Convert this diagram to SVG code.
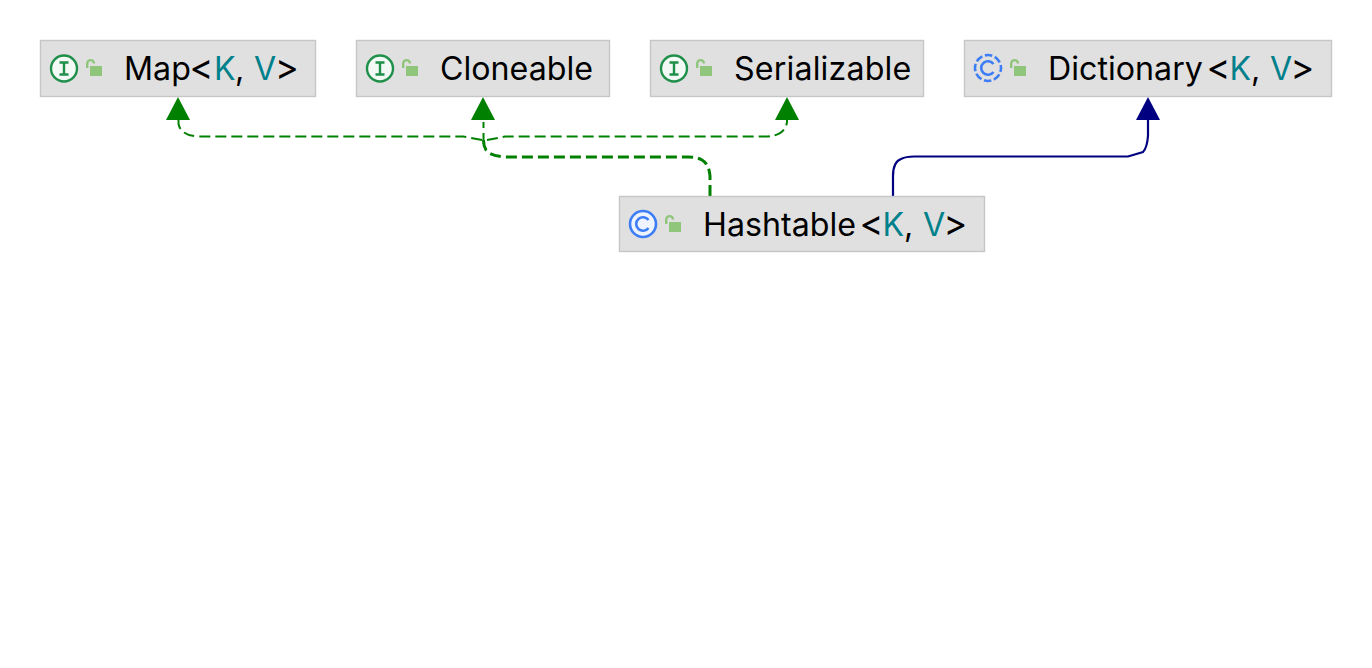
<svg xmlns="http://www.w3.org/2000/svg" width="1372" height="668" viewBox="0 0 1372 668">
<style>
.box{fill:#e0e0e0;stroke:#c6c6c6;stroke-width:1.400}
text{font-family:Inter,"Noto Sans",sans-serif;font-size:32.200px;fill:#000}
.tp{fill:#00808b}
.br{font-size:36px;font-weight:400}
.ic{fill:#f3faf5;stroke:#1f8f4a;stroke-width:2.400}
.ii{fill:none;stroke:#1f8f4a;stroke-width:2.400}
.cc{fill:#eef4ff;stroke:#3d7df5;stroke-width:2.600}
.ci{fill:none;stroke:#3d7df5;stroke-width:2.600}
.lock{fill:#8fc67b}
.shackle{fill:none;stroke:#8fc67b;stroke-width:2.400}
.impl{fill:none;stroke:#008000;stroke-width:2;stroke-dasharray:11 5}
.ext{fill:none;stroke:#000080;stroke-width:2.200}
</style>
<defs>
<g id="lk"><path class="shackle" d="M1.200 8V3.500a3.400 3.400 0 0 1 6.800 0"/><rect class="lock" x="4" y="6" width="12" height="10"/></g>
<g id="ifc"><circle class="ic" cx="0" cy="0" r="13"/><path class="ii" d="M-4.500 -6H4.500M-4.500 6H4.500M0 -6V6"/></g>
<g id="cls"><path class="ci" d="M5.500 -4A6.800 6.800 0 1 0 5.500 4"/></g>
</defs>
<rect width="1372" height="668" fill="#fff"/>
<g id="connectors">
<path class="impl" style="stroke-width:3" d="M710 196V176Q709 164 702 160Q697 157 688 157H506Q490 156 486 150Q483.500 146 483.500 140"/>
<path class="impl" d="M483.500 144V122"/>
<path class="impl" d="M482 140L463 136.500H199Q181 136 178.500 124V118"/>
<path class="impl" d="M487 140L505 136.500H766Q785 136 787 122V118"/>
<path class="ext" d="M893 196V176Q893 162 901 159Q906 156.500 914 156.500H1128L1143 152Q1147 148 1148 136V118"/>
<polygon fill="#008000" points="178,97 190,120 166,120"/>
<polygon fill="#008000" points="483,97 495,120 471,120"/>
<polygon fill="#008000" points="787,97 799,120 775,120"/>
<polygon fill="#000080" points="1148,97 1160,120 1136,120"/>
</g>
<g id="map">
<rect class="box" x="40.500" y="40.500" width="275" height="56"/>
<use href="#ifc" x="64" y="68.500"/><use href="#lk" x="86" y="60"/>
<text x="124" y="80">Map<tspan class="br" x="189.500">&lt;</tspan><tspan class="tp" x="214">K</tspan><tspan x="235">,</tspan><tspan class="tp" x="254">V</tspan><tspan class="br" x="275">&gt;</tspan></text>
</g>
<g id="cloneable">
<rect class="box" x="356.500" y="40.500" width="253" height="56"/>
<use href="#ifc" x="380" y="68.500"/><use href="#lk" x="402" y="60"/>
<text x="440" y="80">Cloneable</text>
</g>
<g id="serializable">
<rect class="box" x="650.500" y="40.500" width="273" height="56"/>
<use href="#ifc" x="674" y="68.500"/><use href="#lk" x="696" y="60"/>
<text x="734" y="80" style="letter-spacing:.15px">Serializable</text>
</g>
<g id="dictionary">
<rect class="box" x="964.500" y="40.500" width="367" height="56"/>
<circle class="ci" cx="988" cy="68" r="13" stroke-dasharray="7.500 2.700" stroke-dashoffset="3.500"/>
<use href="#cls" x="988" y="68"/><use href="#lk" x="1010" y="60"/>
<text x="1048" y="80">Dictionary<tspan class="br" x="1206.500">&lt;</tspan><tspan class="tp" x="1229.500">K</tspan><tspan x="1251">,</tspan><tspan class="tp" x="1270">V</tspan><tspan class="br" x="1290.500">&gt;</tspan></text>
</g>
<g id="hashtable">
<rect class="box" x="619.500" y="196.500" width="365" height="55"/>
<circle class="cc" cx="643" cy="224" r="13"/>
<use href="#cls" x="643" y="224"/><use href="#lk" x="665" y="216"/>
<text x="703" y="236">Hashtable<tspan class="br" x="859.500">&lt;</tspan><tspan class="tp" x="882.500">K</tspan><tspan x="904">,</tspan><tspan class="tp" x="923">V</tspan><tspan class="br" x="943.500">&gt;</tspan></text>
</g>
</svg>
